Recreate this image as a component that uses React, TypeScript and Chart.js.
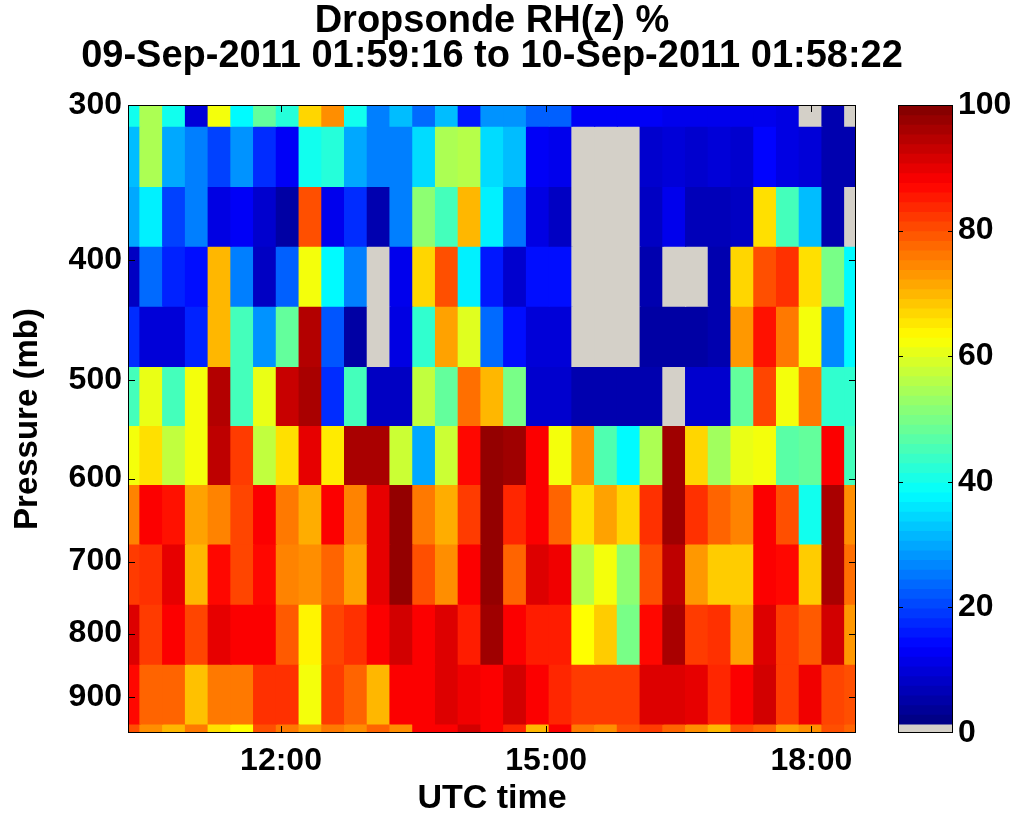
import React, { useEffect, useRef } from 'react';
import { Chart, registerables } from 'chart.js';

Chart.register(...registerables);

// ---------- text ----------
const TITLE_LINES = ['Dropsonde RH(z) %', '09-Sep-2011 01:59:16 to 10-Sep-2011 01:58:22'];
const X_TITLE = 'UTC time';
const Y_TITLE = 'Pressure (mb)';

// ---------- axes ----------
const TIME_MIN = 10.269; // UTC hours at left edge
const TIME_MAX = 18.505; // UTC hours at right edge
const TIME_TICKS = [12, 15, 18];
const P_TOP = 300;
const P_BOTTOM = 962;
const PRESSURE_TICKS = [300, 400, 500, 600, 700, 800, 900];
const COLORBAR_TICKS = [0, 20, 40, 60, 80, 100];

// ---------- grid (column centre times in UTC hours, level centres in mb) ----------
const SONDE_TIMES = [
  10.276, 10.533, 10.790, 11.048, 11.305, 11.562, 11.819, 12.076, 12.334, 12.591, 12.848,
  13.105, 13.362, 13.620, 13.877, 14.134, 14.391, 14.648, 14.906, 15.163, 15.420, 15.677,
  15.934, 16.192, 16.449, 16.706, 16.963, 17.220, 17.478, 17.735, 17.992, 18.249, 18.506,
];
const LEVELS = [295, 330, 369, 412, 461, 515, 574, 641, 716, 801, 895, 1000];

// ---------- RH (%) per level, one value per column; null = no data ----------
const RH_295 = [40, 55, 40, 10, 62, 38, 48, 42, 67, 74, 40, 26, 32, 24, 32, 16, 28, 28, 23, 23, 13, 13, 13, 13, 12, 12, 12, 12, 12, 11, null, 6, null];
const RH_330 = [32, 55, 30, 26, 20, 28, 18, 13, 40, 42, 30, 26, 26, 35, 55, 56, 35, 32, 13, 12, null, null, null, 9, 10, 9, 10, 9, 14, 11, 10, 6, 6];
const RH_369 = [30, 37, 20, 26, 11, 13, 9, 5, 80, 12, 18, 6, 26, 52, 45, 70, 37, 25, 11, 8, null, null, null, 8, 12, 7, 7, 8, 66, 45, 32, 6, null];
const RH_412 = [8, 24, 17, 15, 70, 26, 8, 23, 62, 38, 26, null, 12, 67, 80, 37, 16, 9, 15, 15, null, null, null, 6, null, null, 6, 67, 80, 83, 66, 50, 38];
const RH_461 = [18, 10, 10, 17, 70, 45, 28, 48, 95, 22, 5, null, 11, 43, 72, 60, 24, 15, 10, 10, null, null, null, 5, 5, 5, 6, 73, 86, 76, 62, 27, 38];
const RH_515 = [45, 61, 45, 62, 95, 45, 61, 93, 96, 18, 45, 8, 8, 57, 48, 77, 70, 50, 9, 9, 6, 6, 6, 6, null, 9, 9, 48, 81, 62, 76, 43, 43];
const RH_574 = [62, 66, 57, 62, 94, 82, 57, 66, 90, 65, 96, 96, 58, 30, 58, 87, 98, 97, 88, 62, 74, 46, 38, 55, 97, 67, 54, 61, 62, 47, 48, 88, 45];
const RH_641 = [75, 88, 86, 72, 75, 81, 88, 76, 71, 88, 75, 90, 98, 76, 71, 82, 98, 84, 88, 78, 66, 72, 67, 83, 97, 83, 78, 75, 88, 80, 40, 96, 74];
const RH_716 = [82, 83, 90, 70, 87, 81, 87, 75, 74, 78, 72, 90, 98, 80, 74, 88, 98, 78, 91, 89, 56, 62, 52, 80, 94, 73, 68, 68, 88, 87, 68, 96, 77];
const RH_801 = [91, 82, 88, 81, 90, 88, 88, 79, 64, 81, 83, 88, 92, 88, 91, 85, 97, 88, 85, 85, 63, 68, 50, 87, 96, 82, 83, 72, 91, 82, 79, 92, 73];
const RH_895 = [87, 78, 78, 69, 76, 76, 83, 83, 62, 82, 78, 70, 88, 88, 91, 89, 88, 92, 88, 84, 82, 82, 82, 91, 91, 90, 84, 88, 92, 82, 89, 81, 80];
const RH_1000 = [80, 74, 70, 76, 66, 63, 80, 76, 72, 76, 74, 78, 74, 88, 88, 92, 88, 84, 70, 88, 76, 74, 80, 82, 78, 74, 70, 80, 78, 72, 74, 80, 78];
const RH_BY_LEVEL = [RH_295, RH_330, RH_369, RH_412, RH_461, RH_515, RH_574, RH_641, RH_716, RH_801, RH_895, RH_1000];

// ---------- colour map ----------
const RH_MIN = 0;
const RH_MAX = 100;
const NODATA_TOP = 1.43; // grey (no data) band at the bottom of the colour bar
const JET_STEPS = 64;
const NODATA_COLOR = '#d4d0c8';
const FONT_FAMILY = "'Liberation Sans', Arial, Helvetica, sans-serif";

const clamp01 = (v: number) => Math.max(0, Math.min(1, v));
function jet(t: number): string {
  const r = clamp01(1.5 - Math.abs(4 * t - 3));
  const g = clamp01(1.5 - Math.abs(4 * t - 2));
  const b = clamp01(1.5 - Math.abs(4 * t - 1));
  return `rgb(${Math.round(r * 255)},${Math.round(g * 255)},${Math.round(b * 255)})`;
}
function rhColor(v: number | null): string {
  if (v === null || v === undefined) return NODATA_COLOR;
  return jet(clamp01((v - NODATA_TOP) / (RH_MAX - NODATA_TOP)));
}

// level boundaries (geometric midpoints between level centres)
function levelBounds(i: number): [number, number] {
  const p = LEVELS[i];
  const up = i > 0 ? Math.sqrt(LEVELS[i - 1] * p) : (p * p) / Math.sqrt(p * LEVELS[i + 1]);
  const dn = i < LEVELS.length - 1 ? Math.sqrt(LEVELS[i + 1] * p) : (p * p) / Math.sqrt(p * LEVELS[i - 1]);
  return [up, dn];
}

const bold = (size: number, lineHeight: number | string = 1.2) => ({ family: FONT_FAMILY, size, weight: 'bold' as const, lineHeight });

export default function App() {
  const mainRef = useRef<HTMLCanvasElement | null>(null);
  const barRef = useRef<HTMLCanvasElement | null>(null);

  useEffect(() => {
    document.body.style.margin = '0';
    document.body.style.overflow = 'hidden';
    Chart.defaults.color = '#000';

    const framePlugin = {
      id: 'frame',
      afterDatasetsDraw(chart: any) {
        const { ctx, chartArea: a, scales } = chart;
        ctx.save();
        ctx.strokeStyle = '#000';
        ctx.lineWidth = 1;
        ctx.strokeRect(a.left + 0.5, a.top + 0.5, a.width - 1, a.height - 1);
        ctx.beginPath();
        const tl = 7;
        scales.x.ticks.forEach((t: any) => {
          const px = Math.round(scales.x.getPixelForValue(t.value)) + 0.5;
          ctx.moveTo(px, a.bottom); ctx.lineTo(px, a.bottom - tl);
          ctx.moveTo(px, a.top); ctx.lineTo(px, a.top + tl);
        });
        scales.y.ticks.forEach((t: any) => {
          const py = Math.round(scales.y.getPixelForValue(t.value)) + 0.5;
          ctx.moveTo(a.left, py); ctx.lineTo(a.left + tl, py);
          ctx.moveTo(a.right, py); ctx.lineTo(a.right - tl, py);
        });
        ctx.stroke();
        ctx.restore();
      },
    };

    const datasets = LEVELS.map((p, r) => {
      const [lo, hi] = levelBounds(r);
      return {
        label: `${p} mb`,
        data: SONDE_TIMES.map((t) => ({ x: t, y: [lo, hi] })),
        backgroundColor: RH_BY_LEVEL[r].map((v) => rhColor(v)),
        borderWidth: 0,
        grouped: false,
        barPercentage: 1,
        categoryPercentage: 1,
        inflateAmount: 0.6,
        clip: 0,
      };
    });

    const main = new Chart(mainRef.current as HTMLCanvasElement, {
      type: 'bar',
      data: { datasets: datasets as any },
      plugins: [framePlugin],
      options: {
        responsive: false,
        animation: false,
        layout: { padding: 0 },
        plugins: {
          legend: { display: false },
          tooltip: { enabled: false },
          title: {
            display: true,
            text: TITLE_LINES,
            color: '#000',
            font: bold(38, '35px'),
            padding: { top: 4, bottom: 31 },
          },
        },
        scales: {
          x: {
            type: 'linear',
            min: TIME_MIN,
            max: TIME_MAX,
            offset: false,
            afterBuildTicks: (s: any) => { s.ticks = TIME_TICKS.map((v) => ({ value: v })); },
            afterFit: (s: any) => { s.height = 86; },
            grid: { display: false, drawTicks: false },
            border: { display: false },
            ticks: {
              color: '#000',
              font: bold(32),
              padding: 9,
              maxRotation: 0,
              autoSkip: false,
              callback: (v: any) => `${v}:00`,
            },
            title: { display: true, text: X_TITLE, color: '#000', font: bold(34), padding: { top: 0, bottom: 0 } },
          },
          y: {
            type: 'logarithmic',
            reverse: true,
            min: P_TOP,
            max: P_BOTTOM,
            afterBuildTicks: (s: any) => { s.ticks = PRESSURE_TICKS.map((v) => ({ value: v })); },
            afterFit: (s: any) => { s.width = 128; },
            grid: { display: false, drawTicks: false },
            border: { display: false },
            ticks: {
              color: '#000',
              font: bold(32),
              padding: 6,
              autoSkip: false,
              callback: (v: any) => String(v),
            },
            title: { display: true, text: Y_TITLE, color: '#000', font: bold(33), padding: { top: 8, bottom: 0 } },
          },
          // empty right-hand axis that only reserves the space where the colour bar sits
          yRight: {
            type: 'linear',
            position: 'right',
            min: 0,
            max: 1,
            afterFit: (s: any) => { s.width = 128; },
            grid: { display: false, drawTicks: false },
            border: { display: false },
            ticks: { display: false },
          },
        },
      } as any,
    });

    // colour bar
    const segs: { lo: number; hi: number; color: string }[] = [{ lo: RH_MIN, hi: NODATA_TOP, color: NODATA_COLOR }];
    const step = (RH_MAX - NODATA_TOP) / JET_STEPS;
    for (let i = 0; i < JET_STEPS; i++) {
      segs.push({ lo: NODATA_TOP + i * step, hi: NODATA_TOP + (i + 1) * step, color: jet((i + 0.5) / JET_STEPS) });
    }
    const barFrame = {
      id: 'barFrame',
      afterDatasetsDraw(chart: any) {
        const { ctx, chartArea: a, scales } = chart;
        ctx.save();
        ctx.strokeStyle = '#000';
        ctx.lineWidth = 1;
        ctx.strokeRect(a.left + 0.5, a.top + 0.5, a.width - 1, a.height - 1);
        ctx.beginPath();
        scales.y.ticks.forEach((t: any) => {
          if (t.value <= RH_MIN || t.value >= RH_MAX) return;
          const py = Math.round(scales.y.getPixelForValue(t.value)) + 0.5;
          ctx.moveTo(a.left, py); ctx.lineTo(a.left + 5, py);
          ctx.moveTo(a.right, py); ctx.lineTo(a.right - 5, py);
        });
        ctx.stroke();
        ctx.restore();
      },
    };
    const bar = new Chart(barRef.current as HTMLCanvasElement, {
      type: 'bar',
      data: {
        datasets: [{
          data: segs.map((s) => ({ x: 0.5, y: [s.lo, s.hi] })),
          backgroundColor: segs.map((s) => s.color),
          borderWidth: 0,
          barPercentage: 1,
          categoryPercentage: 1,
          inflateAmount: 0.5,
          clip: 0,
        }] as any,
      },
      plugins: [barFrame],
      options: {
        responsive: false,
        animation: false,
        layout: { padding: { left: 18, right: 0, top: 105, bottom: 86 } },
        plugins: { legend: { display: false }, tooltip: { enabled: false } },
        scales: {
          x: { type: 'linear', min: 0, max: 1, display: false, offset: false },
          y: {
            type: 'linear',
            position: 'right',
            min: RH_MIN,
            max: RH_MAX,
            afterBuildTicks: (s: any) => { s.ticks = COLORBAR_TICKS.map((v) => ({ value: v })); },
            afterFit: (s: any) => { s.width = 70; },
            grid: { display: false, drawTicks: false },
            border: { display: false },
            ticks: { color: '#000', font: bold(32), padding: 5, autoSkip: false },
          },
        },
      } as any,
    });

    return () => {
      main.destroy();
      bar.destroy();
    };
  }, []);

  return (
    <div style={{ position: 'relative', width: 1023, height: 819, background: '#fff', overflow: 'hidden' }}>
      <canvas ref={mainRef} width={984} height={819} style={{ position: 'absolute', left: 0, top: 0 }} />
      <canvas ref={barRef} width={143} height={819} style={{ position: 'absolute', left: 880, top: 0 }} />
    </div>
  );
}
